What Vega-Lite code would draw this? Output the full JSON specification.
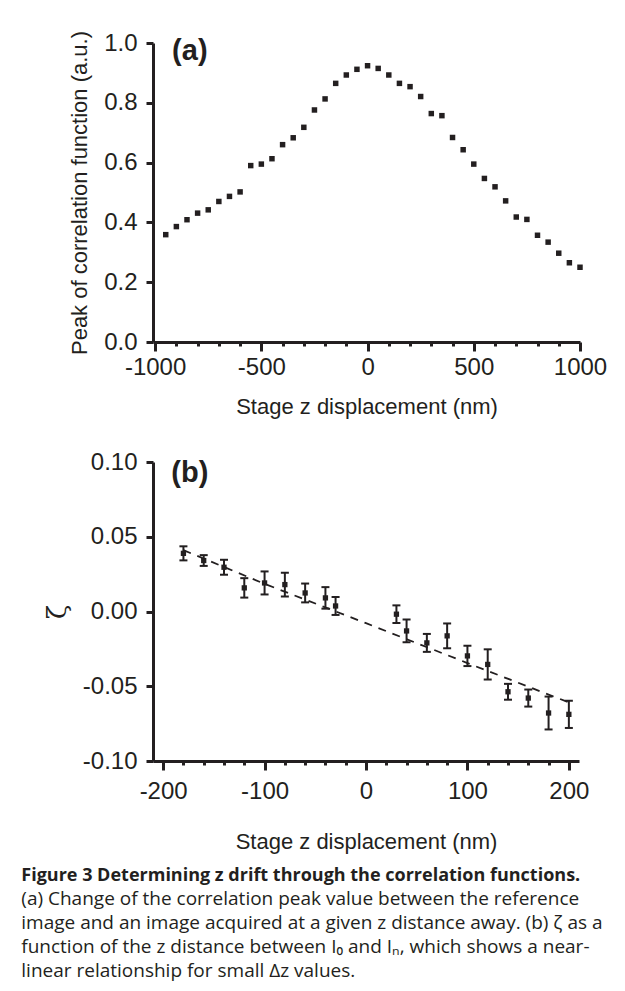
{
  "$schema": "https://vega.github.io/schema/vega-lite/v6.json",
  "background": "white",
  "padding": {"left": 21, "top": 30, "right": 5, "bottom": 5},
  "spacing": 33,
  "config": {
    "view": {"stroke": null},
    "font": "Liberation Sans",
    "axis": {
      "grid": false,
      "domainColor": "#231f20",
      "domainWidth": 3,
      "tickColor": "#231f20",
      "tickWidth": 3,
      "labelFont": "Liberation Sans",
      "labelFontSize": 24,
      "labelColor": "#231f20",
      "titleFont": "Liberation Sans",
      "titleFontSize": 22,
      "titleFontWeight": "normal",
      "titleColor": "#231f20",
      "labelOverlap": false,
      "labelFlush": false,
      "labelBound": false
    }
  },
  "datasets": {
    "peak": [
      {"z": -950, "peak": 0.359}, {"z": -900, "peak": 0.386}, {"z": -850, "peak": 0.409}, {"z": -800, "peak": 0.431},
      {"z": -750, "peak": 0.442}, {"z": -700, "peak": 0.470}, {"z": -650, "peak": 0.487}, {"z": -600, "peak": 0.502},
      {"z": -550, "peak": 0.590}, {"z": -500, "peak": 0.595}, {"z": -450, "peak": 0.613}, {"z": -400, "peak": 0.660},
      {"z": -350, "peak": 0.683}, {"z": -300, "peak": 0.718}, {"z": -250, "peak": 0.776}, {"z": -200, "peak": 0.813},
      {"z": -150, "peak": 0.865}, {"z": -100, "peak": 0.893}, {"z": -50, "peak": 0.912}, {"z": 0, "peak": 0.924},
      {"z": 50, "peak": 0.915}, {"z": 100, "peak": 0.893}, {"z": 150, "peak": 0.865}, {"z": 200, "peak": 0.854},
      {"z": 250, "peak": 0.821}, {"z": 300, "peak": 0.764}, {"z": 350, "peak": 0.757}, {"z": 400, "peak": 0.684},
      {"z": 450, "peak": 0.643}, {"z": 500, "peak": 0.595}, {"z": 550, "peak": 0.547}, {"z": 600, "peak": 0.519},
      {"z": 650, "peak": 0.472}, {"z": 700, "peak": 0.418}, {"z": 750, "peak": 0.410}, {"z": 800, "peak": 0.357},
      {"z": 850, "peak": 0.334}, {"z": 900, "peak": 0.297}, {"z": 950, "peak": 0.265}, {"z": 1000, "peak": 0.250}
    ],
    "zeta": [
      {"z": -180, "zeta": 0.0389, "lo": 0.0342, "hi": 0.0436},
      {"z": -160, "zeta": 0.0341, "lo": 0.0305, "hi": 0.0377},
      {"z": -140, "zeta": 0.0296, "lo": 0.0246, "hi": 0.0346},
      {"z": -120, "zeta": 0.0158, "lo": 0.0093, "hi": 0.0223},
      {"z": -100, "zeta": 0.0191, "lo": 0.0114, "hi": 0.0268},
      {"z": -80, "zeta": 0.0180, "lo": 0.0101, "hi": 0.0259},
      {"z": -60, "zeta": 0.0124, "lo": 0.0061, "hi": 0.0187},
      {"z": -40, "zeta": 0.0091, "lo": 0.0019, "hi": 0.0163},
      {"z": -30, "zeta": 0.0037, "lo": -0.0023, "hi": 0.0097},
      {"z": 30, "zeta": -0.0018, "lo": -0.0077, "hi": 0.0041},
      {"z": 40, "zeta": -0.0130, "lo": -0.0206, "hi": -0.0054},
      {"z": 60, "zeta": -0.0210, "lo": -0.0270, "hi": -0.0150},
      {"z": 80, "zeta": -0.0163, "lo": -0.0246, "hi": -0.0080},
      {"z": 100, "zeta": -0.0297, "lo": -0.0365, "hi": -0.0229},
      {"z": 120, "zeta": -0.0354, "lo": -0.0455, "hi": -0.0253},
      {"z": 140, "zeta": -0.0537, "lo": -0.0590, "hi": -0.0484},
      {"z": 160, "zeta": -0.0579, "lo": -0.0636, "hi": -0.0522},
      {"z": 180, "zeta": -0.0679, "lo": -0.0789, "hi": -0.0569},
      {"z": 200, "zeta": -0.0688, "lo": -0.0779, "hi": -0.0597}
    ],
    "fit": [
      {"z": -180, "zeta": 0.0410},
      {"z": -100, "zeta": 0.0185},
      {"z": 0, "zeta": -0.0078},
      {"z": 100, "zeta": -0.0345},
      {"z": 200, "zeta": -0.0608}
    ]
  },
  "title": {
    "text": "Figure 3 Determining z drift through the correlation functions.",
    "subtitle": [
      "(a) Change of the correlation peak value between the reference",
      "image and an image acquired at a given z distance away. (b) ζ as a",
      "function of the z distance between I₀ and Iₙ, which shows a near-",
      "linear relationship for small Δz values."
    ],
    "orient": "bottom",
    "anchor": "start",
    "dx": -23,
    "font": "Open Sans",
    "fontSize": 18,
    "fontWeight": "bold",
    "color": "#231f20",
    "subtitleFont": "Open Sans",
    "subtitleFontSize": 19,
    "subtitleColor": "#231f20",
    "subtitleLineHeight": 24,
    "subtitlePadding": 5,
    "offset": 15
  },
  "vconcat": [
    {
      "width": 427,
      "height": 299,
      "resolve": {"axis": {"x": "independent"}},
      "layer": [
        {
          "data": {"name": "peak"},
          "mark": {"type": "square", "size": 30, "color": "#231f20", "opacity": 1},
          "encoding": {
            "x": {
              "field": "z", "type": "quantitative",
              "scale": {"domain": [-1010, 1000], "nice": false, "zero": false},
              "axis": {
                "orient": "bottom",
                "title": "Stage z displacement (nm)",
                "values": [-1000, -500, 0, 500, 1000],
                "labelExpr": "replace(format(datum.value, 'd'), '\u2212', '-')",
                "tickSize": 9,
                "labelOverlap": false,
                "labelFlush": false,
                "labelPadding": 4,
                "titlePadding": 17
              }
            },
            "y": {
              "field": "peak", "type": "quantitative",
              "scale": {"domain": [0, 1], "nice": false},
              "axis": {
                "title": "Peak of correlation function (a.u.)",
                "values": [0, 0.2, 0.4, 0.6, 0.8, 1.0],
                "format": ".1f",
                "tickSize": 7,
                "labelOverlap": false,
                "labelPadding": 9,
                "titlePadding": 12
              }
            }
          }
        },
        {
          "data": {"values": [{"label": "(a)"}]},
          "mark": {"type": "text", "fontSize": 29, "fontWeight": "bold", "align": "left", "baseline": "middle", "color": "#231f20", "font": "Liberation Sans"},
          "encoding": {
            "text": {"field": "label"},
            "x": {
              "datum": -920,
              "axis": {
                "orient": "bottom",
                "title": null,
                "labels": false,
                "domain": false,
                "values": [-900, -800, -700, -600, -400, -300, -200, -100, 100, 200, 300, 400, 600, 700, 800, 900],
                "tickSize": 4
              }
            },
            "y": {"datum": 0.972}
          }
        }
      ]
    },
    {
      "width": 426,
      "height": 299,
      "resolve": {"axis": {"x": "independent"}},
      "layer": [
        {
          "data": {"name": "fit"},
          "mark": {"type": "line", "strokeDash": [8, 7], "strokeWidth": 1.8, "color": "#231f20"},
          "encoding": {
            "x": {"field": "z", "type": "quantitative", "axis": null},
            "y": {"field": "zeta", "type": "quantitative", "title": "ζ"}
          }
        },
        {
          "data": {"name": "zeta"},
          "mark": {"type": "errorbar", "ticks": {"size": 8, "thickness": 2, "color": "#231f20", "opacity": 1}, "rule": {"opacity": 1}, "thickness": 2, "color": "#231f20", "opacity": 1},
          "encoding": {
            "x": {"field": "z", "type": "quantitative", "axis": null},
            "y": {"field": "lo", "type": "quantitative", "title": "ζ"},
            "y2": {"field": "hi"}
          }
        },
        {
          "data": {"name": "zeta"},
          "mark": {"type": "square", "size": 28, "color": "#231f20", "opacity": 1},
          "encoding": {
            "x": {
              "field": "z", "type": "quantitative",
              "scale": {"domain": [-210, 210], "nice": false, "zero": false},
              "axis": {
                "orient": "bottom",
                "title": "Stage z displacement (nm)",
                "values": [-200, -100, 0, 100, 200],
                "labelExpr": "replace(format(datum.value, 'd'), '\u2212', '-')",
                "tickSize": 9,
                "labelOverlap": false,
                "labelFlush": false,
                "labelPadding": 9,
                "titlePadding": 28
              }
            },
            "y": {
              "field": "zeta", "type": "quantitative",
              "scale": {"domain": [-0.1, 0.1], "nice": false},
              "axis": {
                "title": "ζ",
                "titleFont": "DejaVu Serif",
                "titleFontSize": 26,
                "values": [-0.1, -0.05, 0, 0.05, 0.1],
                "labelExpr": "replace(format(datum.value, '.2f'), '\u2212', '-')",
                "tickSize": 7,
                "labelOverlap": false,
                "labelPadding": 9,
                "titlePadding": 12
              }
            }
          }
        },
        {
          "data": {"values": [{"label": "(b)"}]},
          "mark": {"type": "text", "fontSize": 29, "fontWeight": "bold", "align": "left", "baseline": "middle", "color": "#231f20", "font": "Liberation Sans"},
          "encoding": {
            "text": {"field": "label"},
            "x": {
              "datum": -192,
              "axis": {
                "orient": "bottom",
                "title": null,
                "labels": false,
                "domain": false,
                "values": [-180, -160, -140, -120, -80, -60, -40, -20, 20, 40, 60, 80, 120, 140, 160, 180],
                "tickSize": 4
              }
            },
            "y": {"datum": 0.0924}
          }
        }
      ]
    }
  ]
}
